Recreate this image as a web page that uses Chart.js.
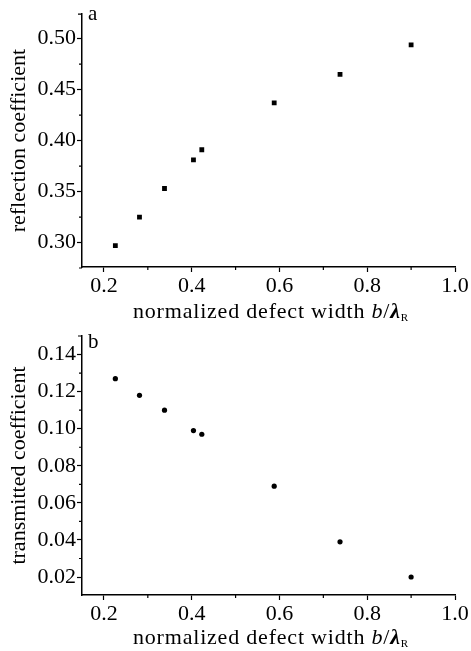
<!DOCTYPE html>
<html>
<head>
<meta charset="utf-8">
<script src="https://cdn.jsdelivr.net/npm/chart.js@4/dist/chart.umd.min.js"></script>
<style>
  body { margin: 0; background: #fff; }
  #wrap { position: relative; width: 471px; height: 651px; font-family: "Liberation Serif", serif; color: #000; }
  canvas { position: absolute; left: 0; }
  .xt { position: absolute; left: 71px; width: 400px; text-align: center; font-size: 22px; line-height: 22px; letter-spacing: 0.8px; white-space: nowrap; }
  .xt sub { font-size: 11px; vertical-align: -3px; }
  .lam { font-style: italic; font-weight: bold; }
  .tag { position: absolute; left: 88px; font-size: 21px; line-height: 21px; }
</style>
</head>
<body>
<div id="wrap">
  <canvas id="chartA" width="471" height="320" style="top:0"></canvas>
  <canvas id="chartB" width="471" height="331" style="top:320px"></canvas>
  <div class="tag" style="top:3px">a</div>
  <div class="tag" style="top:331px">b</div>
  <div class="xt" style="top:300px">normalized defect width <i>b</i>/<span class="lam">λ</span><sub>R</sub></div>
  <div class="xt" style="top:626px">normalized defect width <i>b</i>/<span class="lam">λ</span><sub>R</sub></div>
</div>
<script>
// Daten
const defectWidth = [0.226, 0.281, 0.338, 0.404, 0.423, 0.588, 0.738, 0.900];
const reflection  = [0.297, 0.325, 0.353, 0.381, 0.391, 0.437, 0.465, 0.494];
const transmitted = [0.127, 0.118, 0.110, 0.099, 0.097, 0.069, 0.039, 0.020];

// Achsenbeschriftung
const xTicks = [0.2, 0.4, 0.6, 0.8, 1.0];
const xTickLabels = ['0.2', '0.4', '0.6', '0.8', '1.0'];
const xMinor = [0.3, 0.5, 0.7, 0.9];
const yTicksA = [0.30, 0.35, 0.40, 0.45, 0.50];
const yTickLabelsA = ['0.30', '0.35', '0.40', '0.45', '0.50'];
const yMinorA = [0.275, 0.325, 0.375, 0.425, 0.475];
const yTicksB = [0.02, 0.04, 0.06, 0.08, 0.10, 0.12, 0.14];
const yTickLabelsB = ['0.02', '0.04', '0.06', '0.08', '0.10', '0.12', '0.14'];
const yMinorB = [0.03, 0.05, 0.07, 0.09, 0.11, 0.13];

const font = { family: '"Liberation Serif", serif', size: 22 };

// kleine Zwischenstriche + Kappe oben an der y-Achse
const minorTicks = {
  id: 'minorTicks',
  afterDraw(chart, args, opts) {
    const ctx = chart.ctx;
    const xs = chart.scales.x, ys = chart.scales.y;
    const a = chart.chartArea;
    ctx.save();
    ctx.strokeStyle = '#000';
    ctx.lineWidth = 1.2;
    ctx.beginPath();
    opts.x.forEach(v => {
      const px = xs.getPixelForValue(v);
      ctx.moveTo(px, a.bottom);
      ctx.lineTo(px, a.bottom + 3);
    });
    opts.y.forEach(v => {
      const py = ys.getPixelForValue(v);
      ctx.moveTo(a.left, py);
      ctx.lineTo(a.left - 3, py);
    });
    // Kappe
    ctx.moveTo(a.left, a.top);
    ctx.lineTo(a.left - 4, a.top);
    ctx.stroke();
    ctx.restore();
  }
};

function makeChart(id, yData, pointStyle, radius, yMin, yMax, yTicks, yLabels, yMinor, yTitle, topPad, xHeight) {
  const ctx = document.getElementById(id).getContext('2d');
  return new Chart(ctx, {
    type: 'scatter',
    data: {
      datasets: [{
        data: defectWidth.map((x, i) => ({ x, y: yData[i] })),
        backgroundColor: '#000',
        borderColor: '#000',
        borderWidth: 0,
        pointStyle,
        pointRadius: radius
      }]
    },
    options: {
      responsive: false,
      animation: false,
      layout: { padding: { top: topPad, right: 16, left: 0, bottom: 0 } },
      plugins: {
        legend: { display: false },
        tooltip: { enabled: false },
        minorTicks: { x: xMinor, y: yMinor }
      },
      scales: {
        x: {
          type: 'linear',
          min: 0.15,
          max: 1.0,
          afterBuildTicks: s => { s.ticks = xTicks.map(v => ({ value: v })); },
          afterFit: s => { s.height = xHeight; },
          ticks: {
            color: '#000',
            font,
            padding: 1,
            maxRotation: 0,
            callback: v => xTickLabels[xTicks.findIndex(t => Math.abs(t - v) < 1e-6)]
          },
          grid: { drawOnChartArea: false, tickLength: 5, color: '#000', tickWidth: 1.2 },
          border: { color: '#000', width: 1.5 }
        },
        y: {
          type: 'linear',
          min: yMin,
          max: yMax,
          afterBuildTicks: s => { s.ticks = yTicks.map(v => ({ value: v })); },
          afterFit: s => { s.width = 82; },
          ticks: {
            color: '#000',
            font,
            padding: 1,
            callback: v => yLabels[yTicks.findIndex(t => Math.abs(t - v) < 1e-6)]
          },
          title: { display: true, text: yTitle, color: '#000', font, padding: { top: 6, bottom: 0 } },
          grid: { drawOnChartArea: false, tickLength: 5, color: '#000', tickWidth: 1.2 },
          border: { color: '#000', width: 1.5 }
        }
      }
    },
    plugins: [minorTicks]
  });
}

makeChart('chartA', reflection, 'rect', 3.4, 0.276, 0.524, yTicksA, yTickLabelsA, yMinorA,
  'reflection coefficient', 10, 53);
makeChart('chartB', transmitted, 'circle', 2.6, 0.0103, 0.150, yTicksB, yTickLabelsB, yMinorB,
  'transmitted coefficient', 16, 56);
</script>
</body>
</html>
